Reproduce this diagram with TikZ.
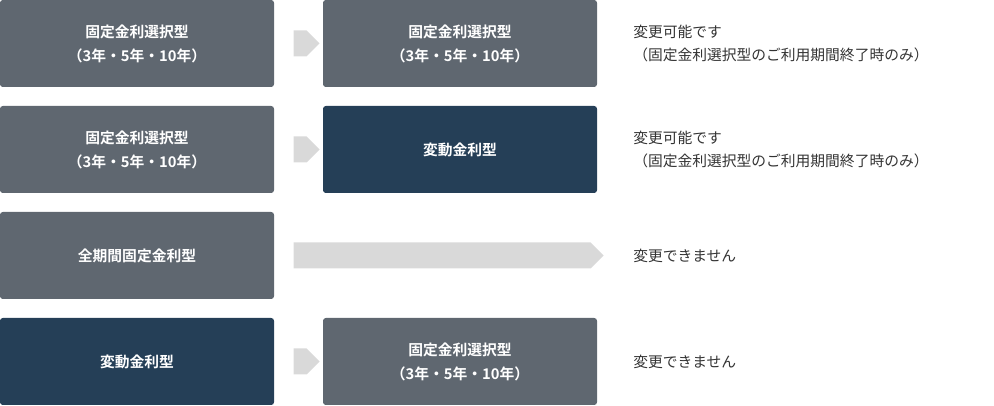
\documentclass[tikz,border=0pt]{standalone}
\usepackage{fontspec}
\newfontfamily\jpfont{Noto Sans CJK JP}
\newfontfamily\jpbold{Noto Sans CJK JP Bold}
\usetikzlibrary{shapes.arrows}
\definecolor{grayBox}{HTML}{5F6770}
\definecolor{navyBox}{HTML}{253F57}
\definecolor{arrowGray}{HTML}{D9D9D9}
\definecolor{noteText}{HTML}{333333}
\tikzset{
  planbox/.style={fill=grayBox, rounded corners=2pt, text=white, align=center,
    minimum width=274*0.025cm, minimum height=87*0.025cm, inner sep=0pt,
    font=\jpbold\fontsize{10.5}{17}\selectfont},
  varbox/.style={planbox, fill=navyBox},
  movearrow/.style={single arrow, fill=arrowGray, inner sep=0pt,
    minimum width=26*0.025cm, single arrow head extend=0pt,
    single arrow head indent=0pt, shape border rotate=0},
  note/.style={anchor=west, align=left, text=noteText, inner sep=0pt,
    font=\jpfont\fontsize{10.5}{17}\selectfont}
}
\begin{document}
\begin{tikzpicture}[x=0.025cm,y=-0.025cm]
  \useasboundingbox (0,0) rectangle (994,406);
  % row 1
  \node[planbox] (fixA) at (137,43.5) {固定金利選択型\\（3年・5年・10年）};
  \node[planbox] (fixB) at (460,43.5) {固定金利選択型\\（3年・5年・10年）};
  \node[movearrow, minimum height=26*0.025cm] (arrA) at (300,43.5) {};
  \node[note] (noteA) at (633,43.5) {変更可能です\\（固定金利選択型のご利用期間終了時のみ）};
  % row 2
  \node[planbox] (fixC) at (137,149.5) {固定金利選択型\\（3年・5年・10年）};
  \node[varbox] (varA) at (460,149.5) {変動金利型};
  \node[movearrow, minimum height=26*0.025cm] (arrB) at (300,149.5) {};
  \node[note] (noteB) at (633,149.5) {変更可能です\\（固定金利選択型のご利用期間終了時のみ）};
  % row 3
  \node[planbox] (fullFix) at (137,255.5) {全期間固定金利型};
  \node[movearrow, minimum height=310*0.025cm] (arrC) at (442,255.5) {};
  \node[note] (noteC) at (633,255.5) {変更できません};
  % row 4
  \node[varbox] (varB) at (137,361.5) {変動金利型};
  \node[planbox] (fixD) at (460,361.5) {固定金利選択型\\（3年・5年・10年）};
  \node[movearrow, minimum height=26*0.025cm] (arrD) at (300,361.5) {};
  \node[note] (noteD) at (633,361.5) {変更できません};
\end{tikzpicture}
\end{document}
